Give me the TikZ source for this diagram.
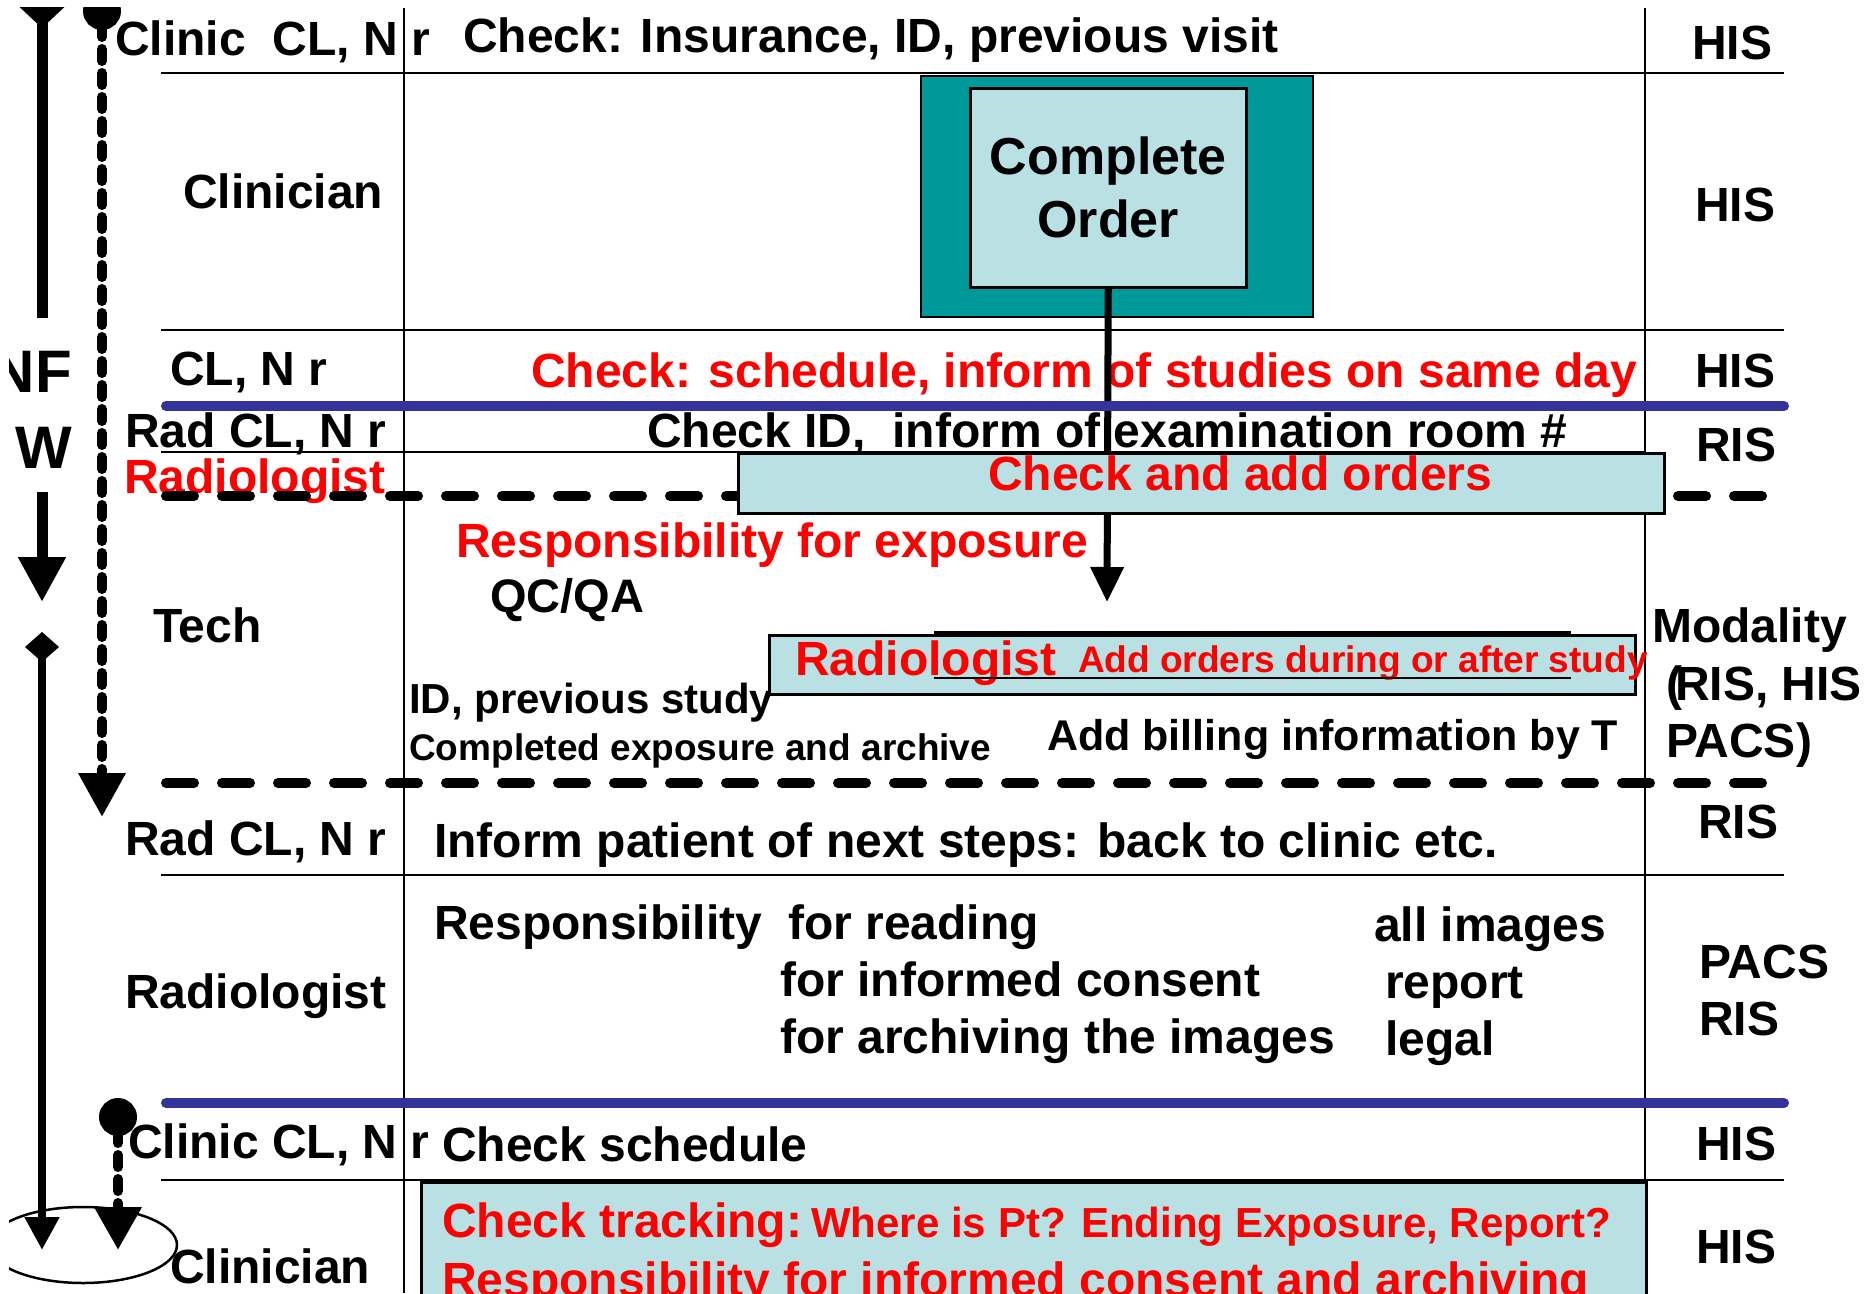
\documentclass[tikz,border=0pt]{standalone}
\usepackage{fontspec}
\setmainfont{Liberation Sans}
\usetikzlibrary{arrows.meta}
\definecolor{tealbg}{RGB}{0,153,153}
\definecolor{lcyan}{RGB}{185,224,227}
\definecolor{barblue}{RGB}{51,51,153}
\newcommand\fsz[1]{\fontsize{#1pt}{#1pt}\selectfont}
\begin{document}
\begin{tikzpicture}[x=1pt,y=-1pt,
  txt/.style={anchor=base west, inner sep=0pt, font=\bfseries\fsz{48}},
  rtxt/.style={txt, text=red},
  gridline/.style={line width=2.5pt, draw=black},
  barline/.style={line width=10pt, line cap=round, draw=barblue},
  sepline/.style={line width=10pt, line cap=round, dash pattern=on 28pt off 28pt},
  dotline/.style={line width=10pt, line cap=round, dash pattern=on 12pt off 12pt},
  cyanbox/.style={draw, line width=2.5pt, fill=lcyan, anchor=north west, inner sep=0pt}]
\useasboundingbox (0,0) rectangle (1865,1293);
\clip (9,7) rectangle (1865,1293);

% grid
\draw[gridline] (404,8) -- (404,1293);
\draw[gridline] (1645,8) -- (1645,1293);
\draw[gridline] (161,73) -- (1784,73);
\draw[gridline] (161,330) -- (1784,330);
\draw[gridline] (161,452) -- (1645,452);
\draw[gridline] (161,875) -- (1784,875);
\draw[gridline] (161,1180) -- (1784,1180);

% complete order box
\node[draw, line width=1.5pt, fill=tealbg, minimum width=392pt, minimum height=241pt, anchor=north west, inner sep=0pt] (orderbg) at (920,75) {};
\node[draw, line width=2.5pt, fill=lcyan, minimum width=276pt, minimum height=199pt, anchor=north west, inner sep=0pt, align=center, font=\bfseries\fontsize{52pt}{63pt}\selectfont] (order) at (969,87) {Complete\\Order};

% texts
\node[txt, font=\bfseries\fsz{48}] (t1) at (115,55) {Clinic\ \ CL, N r};
\node[txt] (t2) at (463,52) {Check: Insurance, ID, previous visit};
\node[txt] (t3) at (183,208) {Clinician};
\node[txt] (t4) at (170,385) {CL, N r};
\node[rtxt] (t5) at (531,387) {Check: schedule, inform of studies on same day};
\node[txt] (t6) at (125,447) {Rad CL, N r};
\node[txt] (t7) at (647,447) {Check ID,\ \ inform of examination room \#};
\node[rtxt] (t8) at (124,493) {Radiologist};
\node[rtxt] (t9) at (456,557) {Responsibility for exposure};
\node[txt, font=\bfseries\fsz{47}] (t10) at (490,612) {QC/QA};
\node[txt] (t11) at (153,642) {Tech};
\node[txt, font=\bfseries\fsz{42}] (t12) at (409,713) {ID, previous study};
\node[txt, font=\bfseries\fsz{37}] (t13) at (409,760) {Completed exposure and archive};
\node[txt, font=\bfseries\fsz{43}] (t14) at (1047,750) {Add billing information by T};
\node[txt] (t15) at (125,855) {Rad CL, N r};
\node[txt] (t16) at (434,857) {Inform patient of next steps: back to clinic etc.};
\node[txt] (t17) at (434,939) {Responsibility};
\node[txt] (t18) at (788,939) {for reading};
\node[txt] (t19) at (780,996) {for informed consent};
\node[txt] (t20) at (780,1053) {for archiving the images};
\node[txt] (t21) at (1374,941) {all images};
\node[txt] (t22) at (1385,998) {report};
\node[txt] (t23) at (1385,1055) {legal};
\node[txt] (t24) at (125,1008) {Radiologist};
\node[txt] (t25) at (128,1158) {Clinic CL, N r};
\node[txt] (t26) at (442,1161) {Check schedule};
\node[txt] (t27) at (170,1283) {Clinician};
\node[txt, anchor=base east, font=\bfseries\fsz{60}] (nf) at (72,392) {NF};
\node[txt, anchor=base east, font=\bfseries\fsz{60}] (w) at (72,468) {W};

% right column
\node[txt] (s1) at (1692,59) {HIS};
\node[txt] (s2) at (1695,221) {HIS};
\node[txt] (s3) at (1695,387) {HIS};
\node[txt] (s4) at (1696,461) {RIS};
\node[txt] (s5) at (1652,642) {Modality};
\node[txt] (s6) at (1666,700) {(\kern-0.15em RIS, HIS};
\node[txt] (s7) at (1666,757) {PACS)};
\node[txt] (s8) at (1698,838) {RIS};
\node[txt] (s9) at (1699,978) {PACS};
\node[txt] (s10) at (1699,1035) {RIS};
\node[txt] (s11) at (1696,1160) {HIS};
\node[txt] (s12) at (1696,1263) {HIS};

% connector from order
\coordinate (ordtip) at (1107,602);
\draw[line width=7pt, -{Triangle[length=35pt,width=32pt]}] (order.south) -- (ordtip);

% dashed separators
\draw[sepline] (166,496) -- (1770,496);
\draw[sepline] (166,783) -- (1770,783);

% blue bars
\draw[barline] (166,406) -- (1784,406);
\draw[barline] (166,1103) -- (1784,1103);

% cyan box 1
\node[cyanbox, minimum width=926pt, minimum height=60pt] (box1) at (737,452) {};
\node[rtxt] (box1t) at (988,490) {Check and add orders};

% cyan box 2
\node[cyanbox, minimum width=866pt, minimum height=59pt] (box2) at (768,634) {};
\node[rtxt] (box2a) at (795,675) {Radiologist};
\node[rtxt, font=\bfseries\fsz{37}] (box2b) at (1078,672) {Add orders during or after study};
\draw[line width=3pt] (934,632) -- (1571,632);
\draw[line width=2pt] (934,678) -- (1571,678);

% cyan box 3
\node[cyanbox, minimum width=1225pt, minimum height=140pt] (box3) at (420,1181) {};
\node[rtxt] (box3a) at (442,1237) {Check tracking:\hspace{9pt}{\fsz{42}Where is Pt? Ending Exposure, Report?}};
\node[rtxt] (box3b) at (442,1296) {Responsibility for informed consent and archiving};

% ellipse
\draw[line width=2.5pt] (83,1245) ellipse [x radius=94, y radius=38];

% flow arrows
\coordinate (fa0) at (42,-14);
\coordinate (fa1) at (42,318);
\coordinate (fa2) at (42,492);
\coordinate (fa3) at (42,602);
\draw[line width=11pt, {Diamond[length=42pt,width=45pt]}-] (fa0) -- (fa1);
\draw[line width=11pt, -{Triangle[length=45pt,width=45pt]}] (fa2) -- (fa3);
\coordinate (fb0) at (42,632);
\coordinate (fb1) at (42,1250);
\draw[line width=8pt, {Diamond[length=30pt,width=34pt]}-{Triangle[length=33pt,width=33pt]}] (fb0) -- (fb1);
\coordinate (da0) at (102,-8);
\coordinate (da1) at (102,817);
\draw[dotline, {Circle[length=38pt,width=38pt]}-{Triangle[length=44pt,width=45pt]}] (da0) -- (da1);
\coordinate (db0) at (118,1098);
\coordinate (db1) at (118,1250);
\draw[dotline, {Circle[length=38pt,width=38pt]}-{Triangle[length=43pt,width=45pt]}] (db0) -- (db1);
\end{tikzpicture}
\end{document}
